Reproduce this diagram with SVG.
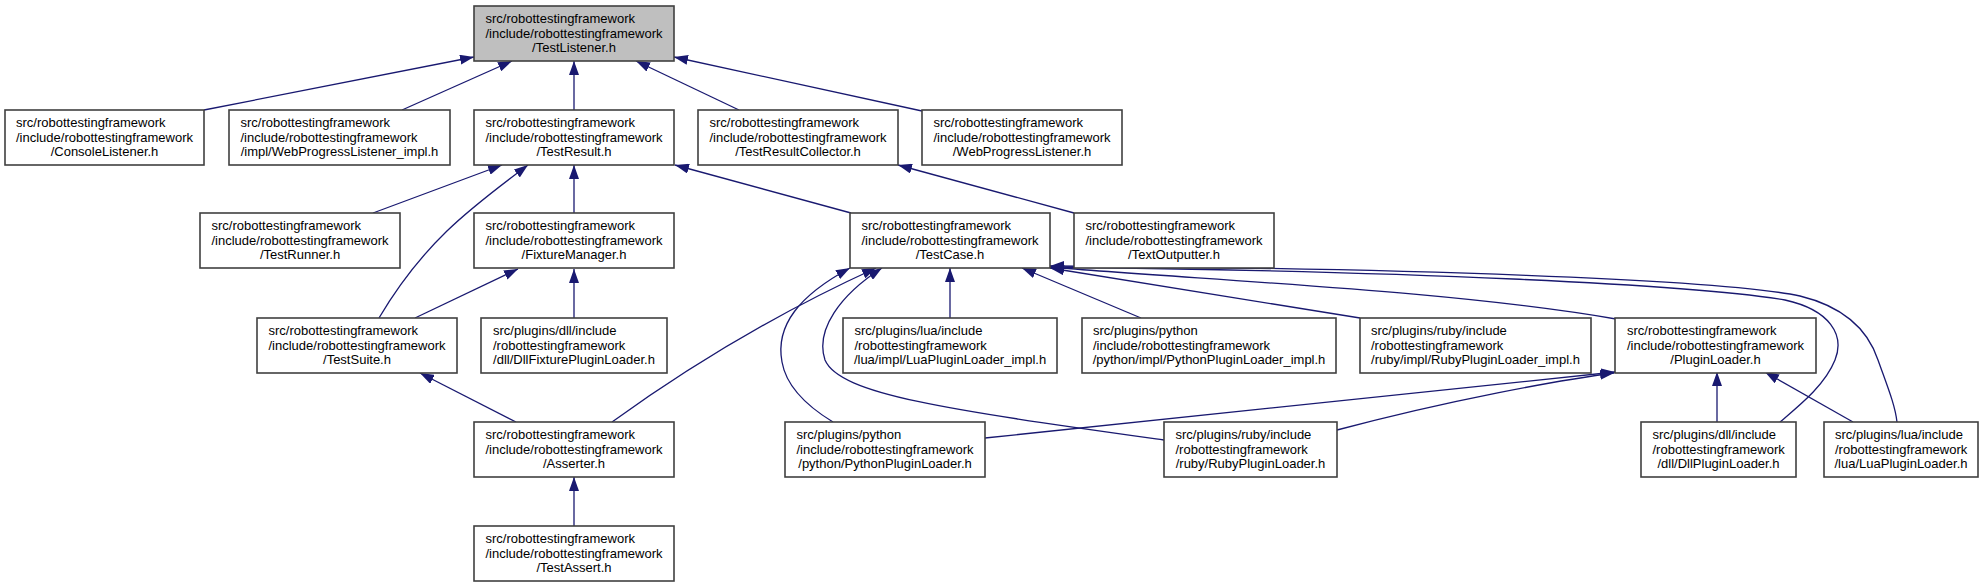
<svg xmlns="http://www.w3.org/2000/svg" width="1984" height="587" viewBox="0 0 1984 587">
<defs>
<style>
.n rect{fill:#ffffff;stroke:#404040;stroke-width:1.6}
.n.root rect{fill:#bfbfbf}
.n text{font-family:"Liberation Sans",Arial,sans-serif;font-size:13px;fill:#000}
.n text.c{text-anchor:middle}
.e path{fill:none;stroke:#191970;stroke-width:1.3;marker-start:url(#ah)}
</style>
<marker id="ah" markerUnits="userSpaceOnUse" markerWidth="14" markerHeight="10" viewBox="0 0 14 10" refX="14" refY="5" orient="auto-start-reverse">
<path d="M0,0 L14,5 L0,10 z" fill="#191970"/>
</marker>
</defs>
<rect width="1984" height="587" fill="#ffffff"/>
<g id="edges" class="e">
<path d="M474,57 L204,110"/>
<path d="M512,61 L402,110"/>
<path d="M574,61 L574,110"/>
<path d="M636,61 L739,110"/>
<path d="M674,57 L922,111"/>
<path d="M502,165 L373,213"/>
<path d="M528,165 C475,205 425,240 379,318"/>
<path d="M574,165 L574,213"/>
<path d="M675,165 L851,213"/>
<path d="M898,165 L1074,213"/>
<path d="M518,269 L415,318"/>
<path d="M574,269 L574,318"/>
<path d="M420,373 L516,422"/>
<path d="M876,268 C786,309 702,357 612,422"/>
<path d="M850,268 C800,295 775,325 782,362 C786,385 805,405 833,422"/>
<path d="M882,268 C840,295 815,330 825,360 C840,395 950,410 1164,440"/>
<path d="M950,268 L950,318"/>
<path d="M1022,268 L1141,318"/>
<path d="M1050,268 L1360,318"/>
<path d="M1050,267 C1200,280 1450,290 1616,319"/>
<path d="M1050,267 C1400,271 1690,284 1785,300 C1830,310 1845,335 1835,360 C1825,385 1800,405 1780,422"/>
<path d="M1050,266 C1400,268 1720,279 1800,296 C1845,307 1868,330 1878,360 C1888,388 1895,405 1897,422"/>
<path d="M1615,372 L985,438"/>
<path d="M1614,373 C1560,380 1450,400 1337,430"/>
<path d="M1717,372 L1717,422"/>
<path d="M1765,372 L1853,422"/>
<path d="M574,477 L574,526"/>
</g>
<g id="TestListener" class="n root">
<rect x="474" y="6" width="200" height="55"/>
<text x="485.5" y="23">src/robottestingframework</text>
<text x="485.5" y="37.5">/include/robottestingframework</text>
<text class="c" x="574" y="52">/TestListener.h</text>
</g>
<g id="ConsoleListener" class="n">
<rect x="5" y="110" width="199" height="55"/>
<text x="16" y="127">src/robottestingframework</text>
<text x="16" y="141.5">/include/robottestingframework</text>
<text class="c" x="104.5" y="156">/ConsoleListener.h</text>
</g>
<g id="WebProgressListenerImpl" class="n">
<rect x="229" y="110" width="221" height="55"/>
<text x="240.5" y="127">src/robottestingframework</text>
<text x="240.5" y="141.5">/include/robottestingframework</text>
<text class="c" x="339.5" y="156">/impl/WebProgressListener_impl.h</text>
</g>
<g id="TestResult" class="n">
<rect x="474" y="110" width="200" height="55"/>
<text x="485.5" y="127">src/robottestingframework</text>
<text x="485.5" y="141.5">/include/robottestingframework</text>
<text class="c" x="574" y="156">/TestResult.h</text>
</g>
<g id="TestResultCollector" class="n">
<rect x="698" y="110" width="200" height="55"/>
<text x="709.5" y="127">src/robottestingframework</text>
<text x="709.5" y="141.5">/include/robottestingframework</text>
<text class="c" x="798" y="156">/TestResultCollector.h</text>
</g>
<g id="WebProgressListener" class="n">
<rect x="922" y="110" width="200" height="55"/>
<text x="933.5" y="127">src/robottestingframework</text>
<text x="933.5" y="141.5">/include/robottestingframework</text>
<text class="c" x="1022" y="156">/WebProgressListener.h</text>
</g>
<g id="TestRunner" class="n">
<rect x="200" y="213" width="200" height="55"/>
<text x="211.5" y="230">src/robottestingframework</text>
<text x="211.5" y="244.5">/include/robottestingframework</text>
<text class="c" x="300" y="259">/TestRunner.h</text>
</g>
<g id="FixtureManager" class="n">
<rect x="474" y="213" width="200" height="55"/>
<text x="485.5" y="230">src/robottestingframework</text>
<text x="485.5" y="244.5">/include/robottestingframework</text>
<text class="c" x="574" y="259">/FixtureManager.h</text>
</g>
<g id="TestCase" class="n">
<rect x="850" y="213" width="200" height="55"/>
<text x="861.5" y="230">src/robottestingframework</text>
<text x="861.5" y="244.5">/include/robottestingframework</text>
<text class="c" x="950" y="259">/TestCase.h</text>
</g>
<g id="TextOutputter" class="n">
<rect x="1074" y="213" width="200" height="55"/>
<text x="1085.5" y="230">src/robottestingframework</text>
<text x="1085.5" y="244.5">/include/robottestingframework</text>
<text class="c" x="1174" y="259">/TextOutputter.h</text>
</g>
<g id="TestSuite" class="n">
<rect x="257" y="318" width="200" height="55"/>
<text x="268.5" y="335">src/robottestingframework</text>
<text x="268.5" y="349.5">/include/robottestingframework</text>
<text class="c" x="357" y="364">/TestSuite.h</text>
</g>
<g id="DllFixturePluginLoader" class="n">
<rect x="481" y="318" width="186" height="55"/>
<text x="493" y="335">src/plugins/dll/include</text>
<text x="493" y="349.5">/robottestingframework</text>
<text class="c" x="574" y="364">/dll/DllFixturePluginLoader.h</text>
</g>
<g id="LuaPluginLoaderImpl" class="n">
<rect x="843" y="318" width="214" height="55"/>
<text x="854.5" y="335">src/plugins/lua/include</text>
<text x="854.5" y="349.5">/robottestingframework</text>
<text class="c" x="950" y="364">/lua/impl/LuaPluginLoader_impl.h</text>
</g>
<g id="PythonPluginLoaderImpl" class="n">
<rect x="1082" y="318" width="254" height="55"/>
<text x="1093" y="335">src/plugins/python</text>
<text x="1093" y="349.5">/include/robottestingframework</text>
<text class="c" x="1209" y="364">/python/impl/PythonPluginLoader_impl.h</text>
</g>
<g id="RubyPluginLoaderImpl" class="n">
<rect x="1360" y="318" width="231" height="55"/>
<text x="1371" y="335">src/plugins/ruby/include</text>
<text x="1371" y="349.5">/robottestingframework</text>
<text class="c" x="1475.5" y="364">/ruby/impl/RubyPluginLoader_impl.h</text>
</g>
<g id="PluginLoader" class="n">
<rect x="1615" y="318" width="201" height="55"/>
<text x="1627" y="335">src/robottestingframework</text>
<text x="1627" y="349.5">/include/robottestingframework</text>
<text class="c" x="1715.5" y="364">/PluginLoader.h</text>
</g>
<g id="Asserter" class="n">
<rect x="474" y="422" width="200" height="55"/>
<text x="485.5" y="439">src/robottestingframework</text>
<text x="485.5" y="453.5">/include/robottestingframework</text>
<text class="c" x="574" y="468">/Asserter.h</text>
</g>
<g id="PythonPluginLoader" class="n">
<rect x="785" y="422" width="200" height="55"/>
<text x="796.5" y="439">src/plugins/python</text>
<text x="796.5" y="453.5">/include/robottestingframework</text>
<text class="c" x="885" y="468">/python/PythonPluginLoader.h</text>
</g>
<g id="RubyPluginLoader" class="n">
<rect x="1164" y="422" width="173" height="55"/>
<text x="1175.5" y="439">src/plugins/ruby/include</text>
<text x="1175.5" y="453.5">/robottestingframework</text>
<text class="c" x="1250.5" y="468">/ruby/RubyPluginLoader.h</text>
</g>
<g id="DllPluginLoader" class="n">
<rect x="1641" y="422" width="155" height="55"/>
<text x="1652.5" y="439">src/plugins/dll/include</text>
<text x="1652.5" y="453.5">/robottestingframework</text>
<text class="c" x="1718.5" y="468">/dll/DllPluginLoader.h</text>
</g>
<g id="LuaPluginLoader" class="n">
<rect x="1824" y="422" width="154" height="55"/>
<text x="1835" y="439">src/plugins/lua/include</text>
<text x="1835" y="453.5">/robottestingframework</text>
<text class="c" x="1901" y="468">/lua/LuaPluginLoader.h</text>
</g>
<g id="TestAssert" class="n">
<rect x="474" y="526" width="200" height="55"/>
<text x="485.5" y="543">src/robottestingframework</text>
<text x="485.5" y="557.5">/include/robottestingframework</text>
<text class="c" x="574" y="572">/TestAssert.h</text>
</g>
</svg>
